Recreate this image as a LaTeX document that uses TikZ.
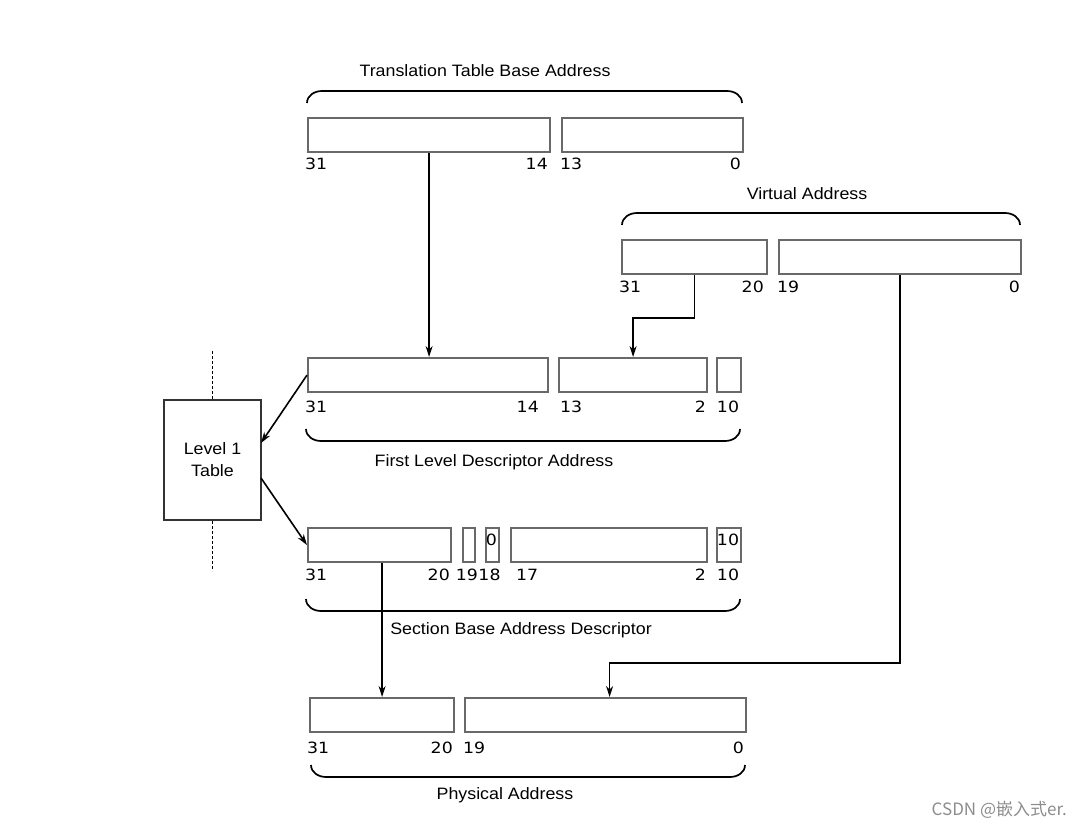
\documentclass[tikz,border=0pt]{standalone}
\usepackage{fontspec}
\setmainfont{Liberation Sans}[FakeStretch=1.08]
\newfontfamily\bitfont{DejaVu Sans}[FakeStretch=1.12]
\newfontfamily\cjkfont{Noto Sans CJK SC}
\usetikzlibrary{positioning}
\usetikzlibrary{arrows.meta}
\definecolor{fieldgray}{RGB}{105,105,105}

\tikzset{
	field/.style={draw=fieldgray, line width=2.2pt, inner sep=0pt, anchor=north west, minimum height=34pt},
	bitno/.style={font=\bitfont\fontsize{15.5}{15.5}\selectfont, inner sep=0pt},
	caption/.style={font=\fontsize{16.5}{20}\selectfont, inner sep=0pt, anchor=base},
	brace/.style={line width=1.7pt},
	link/.style={line width=1.6pt, -{Stealth[length=11pt,width=7pt]}},
}

\begin{document}
\begin{tikzpicture}[x=1pt,y=-1pt]
				\useasboundingbox (0,0) rectangle (1080,829);
				%Nodes
				\node[caption] (ttbtext) at (485,77) {Translation Table Base Address};
				\node[field, minimum width=242pt] (ttbhi) at (307,117) {};
				\node[field, minimum width=181pt] (ttblo) at (561,117) {};
				\node[bitno, anchor=base west] (ttb31) at (305,170) {31};
				\node[bitno, anchor=base east] (ttb14) at (548,170) {14};
				\node[bitno, anchor=base west] (ttb13) at (560,170) {13};
				\node[bitno, anchor=base east] (ttb0) at (741,170) {0};

				\node[caption] (vatext) at (807,200) {Virtual Address};
				\node[field, minimum width=145pt] (vahi) at (621,239) {};
				\node[field, minimum width=242pt] (valo) at (778,239) {};
				\node[bitno, anchor=base west] (va31) at (619,293) {31};
				\node[bitno, anchor=base east] (va20) at (764,293) {20};
				\node[bitno, anchor=base west] (va19) at (777,293) {19};
				\node[bitno, anchor=base east] (va0) at (1020,293) {0};

				\node[field, minimum width=240pt] (fldhi) at (307,357) {};
				\node[field, minimum width=148pt] (fldmid) at (558,357) {};
				\node[field, minimum width=24pt] (fldlo) at (716,357) {};
				\node[bitno, anchor=base west] (fld31) at (305,412) {31};
				\node[bitno, anchor=base east] (fld14) at (539,412) {14};
				\node[bitno, anchor=base west] (fld13) at (560,412) {13};
				\node[bitno, anchor=base east] (fld2) at (706,412) {2};
				\node[bitno, anchor=base] (fld10) at (728,412) {10};
				\node[caption] (fldtext) at (494,466) {First Level Descriptor Address};

				\node[draw=black!80, line width=1.6pt, minimum width=97pt, minimum height=120pt, inner sep=0pt,
					align=center, font=\fontsize{16.5}{22}\selectfont] (l1) at (212.5,460) {Level 1\\Table};
				\coordinate (l1in) at (261,443);
				\coordinate (l1out) at (261,478);

				\node[field, minimum width=143pt] (sbhi) at (307,527) {};
				\node[field, minimum width=12pt] (sbap) at (462,527) {};
				\node[field, minimum width=13pt] (sbzero) at (485,527) {};
				\node[field, minimum width=196pt] (sbmid) at (510,527) {};
				\node[field, minimum width=24pt] (sbtype) at (716,527) {};
				\node[bitno, anchor=base] (sbzerobit) at (491.5,545) {0};
				\node[bitno, anchor=base] (sbtypebits) at (728,545) {10};
				\node[bitno, anchor=base west] (sb31) at (305,580) {31};
				\node[bitno, anchor=base east] (sb20) at (450,580) {20};
				\node[bitno, anchor=base] (sb19) at (467,580) {19};
				\node[bitno, anchor=base] (sb18) at (489.5,580) {18};
				\node[bitno, anchor=base west] (sb17) at (516,580) {17};
				\node[bitno, anchor=base east] (sb2) at (706,580) {2};
				\node[bitno, anchor=base] (sb10) at (728,580) {10};
				\node[caption] (sbtext) at (521,634) {Section Base Address Descriptor};

				\node[field, minimum width=144pt] (pahi) at (309,697) {};
				\node[field, minimum width=281pt] (palo) at (464,697) {};
				\node[bitno, anchor=base west] (pa31) at (307,753) {31};
				\node[bitno, anchor=base east] (pa20) at (453,753) {20};
				\node[bitno, anchor=base west] (pa19) at (463,753) {19};
				\node[bitno, anchor=base east] (pa0) at (744,753) {0};
				\node[caption] (patext) at (505,799) {Physical Address};

				\node[font=\cjkfont\fontsize{17}{18}\selectfont, text=black!45, anchor=base east, inner sep=0pt]
					(mark) at (1067,815) {CSDN @嵌入式er.};

				%Braces
				\draw[brace] (307,103) to[out=90,in=180] (322,91) -- (727,91) to[out=0,in=90] (742,103);
				\draw[brace] (622,225) to[out=90,in=180] (637,213) -- (1005,213) to[out=0,in=90] (1020,225);
				\draw[brace] (306,429) to[out=-90,in=180] (321,441) -- (725,441) to[out=0,in=-90] (740,429);
				\draw[brace] (306,599) to[out=-90,in=180] (321,611) -- (725,611) to[out=0,in=-90] (740,599);
				\draw[brace] (311,765) to[out=-90,in=180] (326,777) -- (730,777) to[out=0,in=-90] (745,765);

				%Lines
				\draw[line width=1.1pt, dash pattern=on 3pt off 2pt] (l1.north) -- ++(0,-48);
				\draw[line width=1.1pt, dash pattern=on 3pt off 2pt] (l1.south) -- ++(0,50);

				\draw[link] (ttbhi.south) -- (ttbhi.south |- fldhi.north);
				\draw[link] (vahi.south) -- ++(0,43) -| (fldmid.north);
				\draw[link] (valo.south) -- ++(0,388) -| ([xshift=4pt]palo.north);
				\draw[link] (fldhi.west) -- (l1in);
				\draw[link] (l1out) -- (sbhi.west);
				\draw[link] (sbhi.south -| pahi.north) -- (pahi.north);

		\end{tikzpicture}
\end{document}
